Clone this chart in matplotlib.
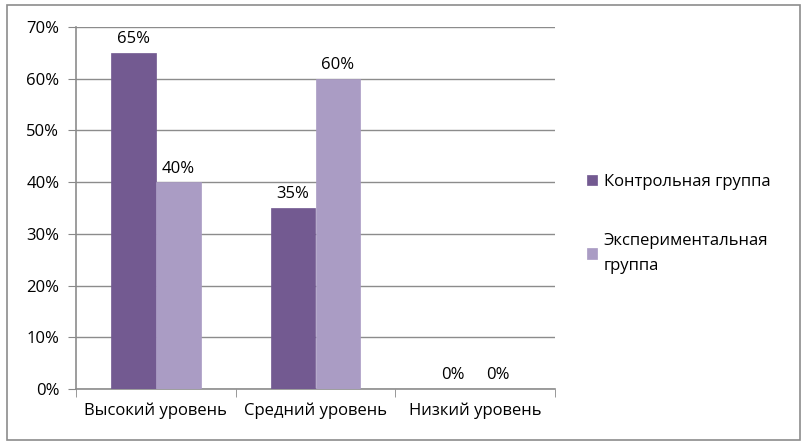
import matplotlib.pyplot as plt
import numpy as np
from matplotlib.patches import Rectangle

categories = ['Высокий уровень', 'Средний уровень', 'Низкий уровень']
series_names = ['Контрольная группа', 'Экспериментальная\nгруппа']
control = [65, 35, 0]
experimental = [40, 60, 0]
colors = ['#735a91', '#aa9cc4']

plt.rcParams['font.family'] = ['Open Sans', 'DejaVu Sans']

fig = plt.figure(figsize=(8.07, 4.46), dpi=100)
ax = fig.add_axes([76 / 807, 1 - 389 / 446, 479 / 807, 362 / 446])

x = np.arange(len(categories))
width = 0.28
for i, vals in enumerate([control, experimental]):
    b = ax.bar(x + (i - 0.5) * width, vals, width, color=colors[i],
               label=series_names[i], zorder=3, linewidth=0.5,
               edgecolor=colors[i])
    ax.bar_label(b, labels=[f'{v}%' for v in vals], padding=4, fontsize=12)

ax.set_xlim(-0.5, 2.5)
ax.set_ylim(0, 70)
ax.set_yticks(range(0, 71, 10))
ax.set_yticklabels([f'{v}%' for v in range(0, 71, 10)], fontsize=12)
ax.set_xticks(x)
ax.set_xticklabels(categories, fontsize=12)
ax.set_xticks([-0.5, 0.5, 1.5, 2.5], minor=True)
ax.tick_params(axis='x', which='major', length=0, pad=10)
ax.tick_params(axis='x', which='minor', length=6, color='#888888', direction='out')
ax.tick_params(axis='y', length=6, color='#888888', pad=6)

ax.yaxis.grid(True, color='#8c8c8c', linewidth=1, zorder=0)
for s in ['top', 'right']:
    ax.spines[s].set_visible(False)
for s in ['left', 'bottom']:
    ax.spines[s].set_color('#8c8c8c')
    ax.spines[s].set_linewidth(1.2)

leg = ax.legend(loc='center left', bbox_to_anchor=(572 / 807, 1 - 224 / 446),
                bbox_transform=fig.transFigure, frameon=False, fontsize=12,
                handlelength=0.6, handleheight=0.6, handletextpad=0.4,
                labelspacing=2.6)
for t in leg.get_texts():
    t.set_linespacing(1.75)

fig.patches.append(Rectangle((7 / 807, 1 - 440 / 446), 793 / 807, 435 / 446,
                             transform=fig.transFigure, fill=False,
                             edgecolor='#8c8c8c', linewidth=1.2))

fig.savefig('out.png', dpi=100, facecolor='white')
